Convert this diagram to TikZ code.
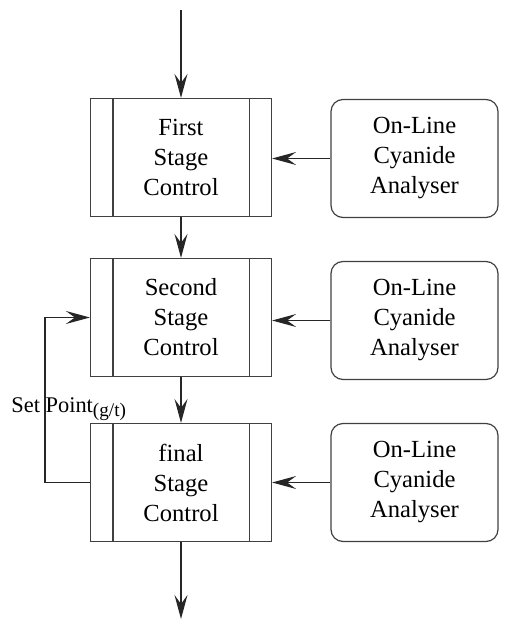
\documentclass[tikz,border=0pt]{standalone}
\usepackage{fontspec}
\setmainfont{Liberation Serif}
\usetikzlibrary{arrows.meta}
\begin{document}
\begin{tikzpicture}[x=0.5pt,y=-0.5pt,
  lbl/.style={font=\fontsize{12.3}{15}\selectfont},
  ctrl/.style={draw=black!75, line width=0.6pt, rectangle, minimum width=90.5pt,
    minimum height=59pt, align=center, inner sep=0pt, lbl},
  analyser/.style={draw=black!75, line width=0.6pt, rectangle, rounded corners=6pt,
    minimum width=83.5pt, minimum height=59pt, align=center, inner sep=0pt, lbl},
  flow/.style={draw=black!85, line width=0.6pt,
    -{Stealth[length=12pt, width=6.5pt, inset=4.5pt]}},
  divider/.style={draw=black!75, line width=0.6pt}]
\useasboundingbox (0,0) rectangle (510,626);

% control stages
\node[ctrl] (s1) at (181,157.5) {First\\Stage\\Control};
\node[ctrl] (s2) at (181,317.5) {Second\\Stage\\Control};
\node[ctrl] (s3) at (181,482.5) {final\\Stage\\Control};

% inner vertical dividers of each stage box
\foreach \s in {s1,s2,s3}{
  \draw[divider] ([xshift=11.5pt]\s.north west) -- ([xshift=11.5pt]\s.south west);
  \draw[divider] ([xshift=-11.5pt]\s.north east) -- ([xshift=-11.5pt]\s.south east);
}

% on-line analysers
\node[analyser] (a1) at (414.5,158.5) {On-Line\\Cyanide\\Analyser};
\node[analyser] (a2) at (414.5,320.5) {On-Line\\Cyanide\\Analyser};
\node[analyser] (a3) at (414.5,482.5) {On-Line\\Cyanide\\Analyser};

% main flow
\coordinate (in) at (181,10);
\coordinate (out) at (181,619);
\draw[flow] (in) -- (s1.north);
\draw[flow] (s1.south) -- (s2.north);
\draw[flow] (s2.south) -- (s3.north);
\draw[flow] (s3.south) -- (out);

% analyser signals
\draw[flow] (a1.west) -- (a1.west -| s1.east);
\draw[flow] (a2.west) -- (a2.west -| s2.east);
\draw[flow] (a3.west) -- (a3.west -| s3.east);

% set point feedback
\coordinate (fbx) at (45,0);
\draw[flow] (s3.west) -- (s3.west -| fbx) |- (s2.west);
\node[anchor=base west, inner sep=0pt, font=\fontsize{11.2}{13}\selectfont] (sp) at (11,412)
  {Set Point\raisebox{-2.2pt}{\fontsize{9.6}{11}\selectfont(g/t)}};
\end{tikzpicture}
\end{document}
